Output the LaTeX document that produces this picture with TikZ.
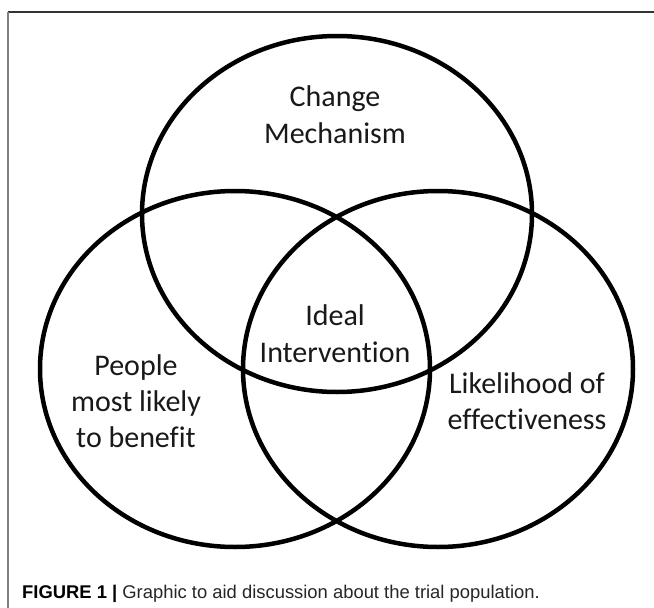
\documentclass[tikz,border=0pt]{standalone}
\usepackage{fontspec}
\setmainfont[Ligatures=NoCommon]{Carlito}
\newfontfamily\capfont{Liberation Sans}
\usetikzlibrary{shapes.geometric}
\tikzset{
  venn/.style={ellipse, draw=black, line width=4.5pt, minimum width=390pt, minimum height=356pt, inner sep=0pt},
  lbl/.style={anchor=base, inner sep=0pt, font=\fontsize{30}{37}\selectfont, text=black!90},
  frameline/.style={line width=1.3pt}
}
\begin{document}
\begin{tikzpicture}[x=1pt,y=-1pt]
\useasboundingbox[fill=white] (0,0) rectangle (654,608);
% frame
\coordinate (ftl) at (8,12);
\coordinate (ftr) at (654,12);
\coordinate (fbl) at (8,608);
\draw[frameline, draw=black!80] (ftl) -- (ftr);
\draw[frameline, draw=black!50] (ftl) -- (fbl);
% ellipses
\node[venn] (top) at (337,214) {};
\node[venn] (left) at (235,369) {};
\node[venn] (right) at (438,369) {};
% labels
\node[lbl] (chg1) at (335,106) {Change};
\node[lbl] (chg2) at (335,143) {Mechanism};
\node[lbl] (ide1) at (335,325) {Ideal};
\node[lbl] (ide2) at (335,362) {Intervention};
\node[lbl] (ppl1) at (136,375) {People};
\node[lbl] (ppl2) at (136,411) {most likely};
\node[lbl] (ppl3) at (136,447) {to benefit};
\node[lbl] (lik1) at (527,393) {Likelihood of};
\node[lbl] (lik2) at (527,429) {effectiveness};
% caption
\node[anchor=base west, inner sep=0pt, font=\capfont\fontsize{18.4}{21}\selectfont, text=black!85] (cap) at (22,598)
  {\textbf{\color{black}FIGURE 1 |} Graphic to aid discussion about the trial population.};
\end{tikzpicture}
\end{document}
